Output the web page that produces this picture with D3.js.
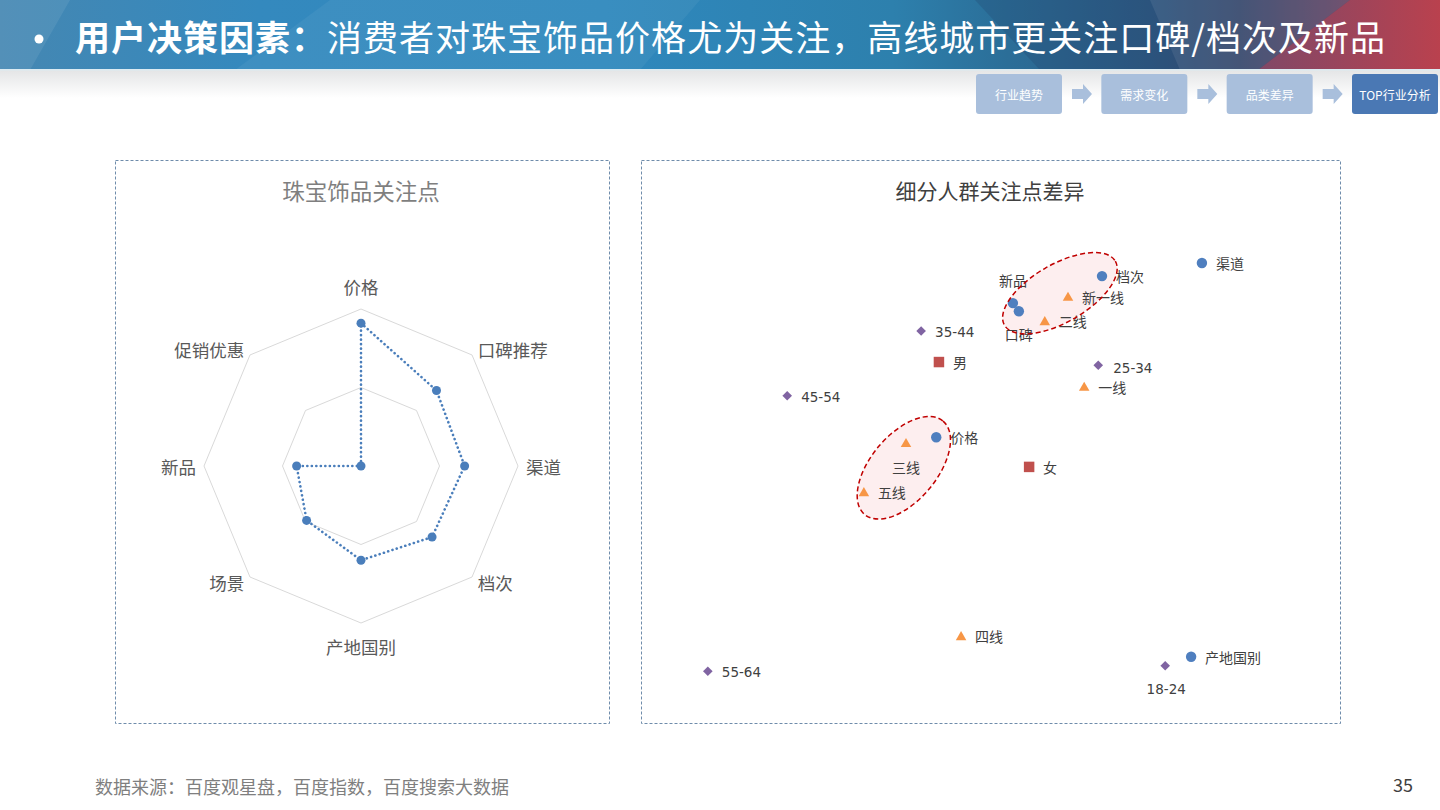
<!DOCTYPE html>
<html>
<head>
<meta charset="utf-8">
<script src="https://cdn.jsdelivr.net/npm/d3@7"></script>
<style>
  html, body { margin: 0; padding: 0; background: #fff; }
  svg { display: block; font-family: "Noto Sans CJK SC", "Noto Sans", sans-serif; }
</style>
</head>
<body>
<svg id="chart" width="1440" height="810"></svg>
<script>
// ---------------- DATA ----------------
const titleBold = "用户决策因素：";
const titleRest = "消费者对珠宝饰品价格尤为关注，高线城市更关注口碑/档次及新品";
const navItems = ["行业趋势", "需求变化", "品类差异", "TOP行业分析"];
const navActive = 3;

const radarTitle = "珠宝饰品关注点";
const radarAxes = ["价格", "口碑推荐", "渠道", "档次", "产地国别", "场景", "新品", "促销优惠"];
const radarValues = [0.91, 0.68, 0.66, 0.64, 0.60, 0.49, 0.41, 0.0];
const radarRings = [0.5, 1.0];

const scatterTitle = "细分人群关注点差异";
// 关注点 (blue circles)
const focusNames = ["渠道", "档次", "新品", "口碑", "价格", "产地国别"];
const focusX = [94.8, 76.3, 59.8, 60.9, 45.6, 92.8];
const focusY = [97.1, 94.2, 88.2, 86.4, 58.4, 9.6];
// 城市级别 (orange triangles)
const cityNames = ["新一线", "二线", "一线", "三线", "五线", "四线"];
const cityX = [70.0, 65.7, 73.0, 40.0, 32.2, 50.2];
const cityY = [89.6, 84.2, 69.6, 57.1, 46.2, 14.2];
// 性别 (red squares)
const genderNames = ["男", "女"];
const genderX = [46.1, 62.8];
const genderY = [75.1, 51.8];
// 年龄 (purple diamonds)
const ageNames = ["35-44", "25-34", "45-54", "55-64", "18-24"];
const ageX = [42.8, 75.6, 18.0, 3.3, 88.0];
const ageY = [82.0, 74.4, 67.6, 6.4, 7.6];
// highlighted clusters (centres in data units)
const clusterX = [68.5, 39.6];
const clusterY = [90.4, 51.6];

const sourceText = "数据来源：百度观星盘，百度指数，百度搜索大数据";
const pageNumber = "35";

// ---------------- DRAW ----------------
const svg = d3.select("#chart");
const defs = svg.append("defs");

// header gradient
const hg = defs.append("linearGradient").attr("id", "hdr").attr("x1", 0).attr("x2", 1).attr("y1", 0).attr("y2", 0);
[[0, "#4587b2"], [0.18, "#3489be"], [0.42, "#2f88bd"], [0.62, "#2d80ad"], [0.70, "#2b6e98"], [0.80, "#2f5a84"], [0.86, "#3c4a6e"], [0.92, "#6e4766"], [1, "#bb424f"]]
  .forEach(s => hg.append("stop").attr("offset", s[0]).attr("stop-color", s[1]));
const sg = defs.append("linearGradient").attr("id", "shadow").attr("x1", 0).attr("x2", 0).attr("y1", 0).attr("y2", 1);
sg.append("stop").attr("offset", 0).attr("stop-color", "#e4e5e6");
sg.append("stop").attr("offset", 1).attr("stop-color", "#ffffff");
const rg = defs.append("linearGradient").attr("id", "redw").attr("x1", 0).attr("x2", 1);
rg.append("stop").attr("offset", 0).attr("stop-color", "#8c4866");
rg.append("stop").attr("offset", 1).attr("stop-color", "#c0414d");

const header = svg.append("g");
header.append("rect").attr("x", 0).attr("y", 0).attr("width", 1440).attr("height", 70).attr("fill", "url(#hdr)");
header.append("polygon").attr("points", "0,0 70,0 30,70 0,70").attr("fill", "#ffffff").attr("opacity", 0.08);
header.append("polygon").attr("points", "330,0 700,0 640,70 235,70").attr("fill", "#ffffff").attr("opacity", 0.05);
header.append("polygon").attr("points", "975,0 1440,0 1440,70 1040,70").attr("fill", "#1f3f66").attr("opacity", 0.25);
header.append("polygon").attr("points", "1150,0 1350,0 1258,70 1180,70").attr("fill", "#ffffff").attr("opacity", 0.08);
header.append("polygon").attr("points", "1350,0 1440,0 1440,70 1258,70").attr("fill", "url(#redw)").attr("opacity", 0.85);
svg.append("rect").attr("x", 0).attr("y", 70).attr("width", 1440).attr("height", 28).attr("fill", "url(#shadow)");
svg.append("rect").attr("x", 0).attr("y", 69).attr("width", 1440).attr("height", 1.5).attr("fill", "#dcebf2");

header.append("circle").attr("cx", 39).attr("cy", 39).attr("r", 4.5).attr("fill", "#fff");
const tt = header.append("text").attr("x", 75).attr("y", 51).attr("fill", "#fff").attr("font-size", 35)
  .attr("textLength", 1310).attr("lengthAdjust", "spacing");
tt.append("tspan").attr("font-weight", "bold").text(titleBold);
tt.append("tspan").text(titleRest);

// nav
const navX = d3.scalePoint().domain(navItems).range([976, 1352]);
const navW = 86, navH = 40, navTop = 74;
const nav = svg.append("g");
navItems.forEach((t, i) => {
  const x = navX(t);
  nav.append("rect").attr("x", x).attr("y", navTop).attr("width", navW).attr("height", navH).attr("rx", 3)
    .attr("fill", i === navActive ? "#4a78b4" : "#a9bfdc");
  nav.append("text").attr("x", x + navW / 2).attr("y", navTop + navH / 2).attr("text-anchor", "middle")
    .attr("dominant-baseline", "central").attr("fill", "#fff").attr("font-size", 12).text(t);
  if (i < navItems.length - 1) {
    const ax = x + navW + 10;
    nav.append("path").attr("d", `M${ax},${89} h11 v-5 l9,10 l-9,10 v-5 h-11 z`).attr("fill", "#a9bfdc");
  }
});

// panels
const panels = [[115.5, 160.5, 494, 563], [641.5, 160.5, 699, 563]];
panels.forEach(p => svg.append("rect").attr("x", p[0]).attr("y", p[1]).attr("width", p[2]).attr("height", p[3])
  .attr("fill", "none").attr("stroke", "#6f8cab").attr("stroke-width", 1).attr("stroke-dasharray", "3,2"));

svg.append("text").attr("x", 361).attr("y", 190).attr("text-anchor", "middle").attr("dominant-baseline", "central")
  .attr("font-size", 22.5).attr("fill", "#7f7f7f").text(radarTitle);
svg.append("text").attr("x", 990).attr("y", 190).attr("text-anchor", "middle").attr("dominant-baseline", "central")
  .attr("font-size", 21).attr("fill", "#404040").text(scatterTitle);

// ---- radar ----
const rc = { x: 361, y: 466 };
const rScale = d3.scaleLinear().domain([0, 1]).range([0, 157]);
const ang = d3.scalePoint().domain(radarAxes.concat(["_end"])).range([0, 2 * Math.PI]);
const radar = svg.append("g").attr("transform", `translate(${rc.x},${rc.y})`);
radarRings.forEach(v => {
  const gen = d3.lineRadial().angle(d => ang(d)).radius(rScale(v)).curve(d3.curveLinearClosed);
  radar.append("path").attr("d", gen(radarAxes)).attr("fill", "none").attr("stroke", "#d9d9d9").attr("stroke-width", 1);
});
const pts = radarAxes.map((a, i) => ({ a, v: radarValues[i] }));
const seriesLine = d3.lineRadial().angle(d => ang(d.a)).radius(d => rScale(d.v)).curve(d3.curveLinearClosed);
radar.append("path").attr("d", seriesLine(pts)).attr("fill", "none").attr("stroke", "#4a7ebb")
  .attr("stroke-width", 2.6).attr("stroke-dasharray", "0.1 4.4").attr("stroke-linecap", "round");
radar.selectAll("circle.pt").data(pts).join("circle").attr("class", "pt")
  .attr("cx", d => rScale(d.v) * Math.sin(ang(d.a)))
  .attr("cy", d => -rScale(d.v) * Math.cos(ang(d.a)))
  .attr("r", 4.5).attr("fill", "#4a7ebb");
radar.selectAll("text.ax").data(radarAxes).join("text").attr("class", "ax")
  .each(function (a) {
    const t = ang(a), s = Math.sin(t), c = Math.cos(t);
    const vertical = Math.abs(s) < 0.01;
    const R = vertical ? 180 : 165;
    d3.select(this).attr("x", R * s).attr("y", -R * c)
      .attr("text-anchor", vertical ? "middle" : (s > 0 ? "start" : "end"));
  })
  .attr("dominant-baseline", "central").attr("font-size", 17.5).attr("fill", "#595959").text(d => d);

// ---- scatter ----
const sx = d3.scaleLinear().domain([0, 100]).range([690, 1230]);
const sy = d3.scaleLinear().domain([0, 100]).range([700, 250]);
const scatter = svg.append("g");

// clusters: radii in px, angle in degrees
const clusterShape = [{ rx: 64, ry: 29, rot: -30 }, { rx: 61, ry: 33, rot: -50 }];
const clusters = clusterX.map((x, i) => ({ x, y: clusterY[i], ...clusterShape[i] }));
scatter.selectAll("ellipse.fill").data(clusters).join("ellipse").attr("class", "fill")
  .attr("transform", d => `translate(${sx(d.x)},${sy(d.y)}) rotate(${d.rot})`)
  .attr("rx", d => d.rx).attr("ry", d => d.ry).attr("fill", "#fdeced").attr("opacity", 0.9);

const groups = [
  { names: focusNames, xs: focusX, ys: focusY, type: d3.symbolCircle, size: 85, color: "#4f7fbf", rot: 0 },
  { names: cityNames, xs: cityX, ys: cityY, type: d3.symbolTriangle, size: 48, color: "#f79646", rot: 0 },
  { names: genderNames, xs: genderX, ys: genderY, type: d3.symbolSquare, size: 110, color: "#c0504d", rot: 0 },
  { names: ageNames, xs: ageX, ys: ageY, type: d3.symbolSquare, size: 46, color: "#8064a2", rot: 45 }
];
const labelPlace = {
  "新品": { dx: 0, dy: -22, anchor: "middle" },
  "口碑": { dx: 0, dy: 24, anchor: "middle" },
  "三线": { dx: 0, dy: 25, anchor: "middle" },
  "18-24": { dx: 1, dy: 23, anchor: "middle" },
  "25-34": { dx: 15, dy: 3, anchor: "start" }
};
groups.forEach(g => {
  const data = g.names.map((n, i) => ({ n, x: g.xs[i], y: g.ys[i] }));
  scatter.selectAll(null).data(data).join("path")
    .attr("d", d3.symbol().type(g.type).size(g.size))
    .attr("transform", d => `translate(${sx(d.x)},${sy(d.y) + (g.type === d3.symbolTriangle ? 1 : 0)}) rotate(${g.rot})`)
    .attr("fill", g.color);
  scatter.selectAll(null).data(data).join("text")
    .attr("x", d => sx(d.x) + (labelPlace[d.n] ? labelPlace[d.n].dx : 14))
    .attr("y", d => sy(d.y) + (labelPlace[d.n] ? labelPlace[d.n].dy : 1))
    .attr("text-anchor", d => labelPlace[d.n] ? labelPlace[d.n].anchor : "start")
    .attr("dominant-baseline", "central")
    .attr("font-family", "'DejaVu Sans', 'Noto Sans CJK SC', sans-serif")
    .attr("font-size", d => /\d/.test(d.n) ? 13.5 : 14)
    .attr("fill", "#404040").text(d => d.n);
});

scatter.selectAll("ellipse.line").data(clusters).join("ellipse").attr("class", "line")
  .attr("transform", d => `translate(${sx(d.x)},${sy(d.y)}) rotate(${d.rot})`)
  .attr("rx", d => d.rx).attr("ry", d => d.ry).attr("fill", "none")
  .attr("stroke", "#c00000").attr("stroke-width", 1.5).attr("stroke-dasharray", "5,3");

// footer
svg.append("text").attr("x", 95).attr("y", 786).attr("dominant-baseline", "central").attr("font-size", 18)
  .attr("fill", "#7f7f7f").text(sourceText);
svg.append("text").attr("x", 1413).attr("y", 784).attr("text-anchor", "end").attr("dominant-baseline", "central")
  .attr("font-size", 18).attr("fill", "#404040").text(pageNumber);
</script>
</body>
</html>
